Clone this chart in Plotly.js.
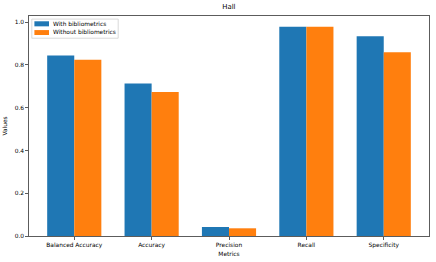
<!DOCTYPE html>
<html>
<head>
<meta charset="utf-8">
<script src="https://cdn.plot.ly/plotly-3.0.1.min.js"></script>
<style>html,body{margin:0;padding:0;background:#fff;}#chart{width:436px;height:262px;}</style>
</head>
<body>
<div id="chart"></div>
<script>
const categories = ["Balanced Accuracy", "Accuracy", "Precision", "Recall", "Specificity"];
const withBiblio = [0.844, 0.713, 0.042, 0.979, 0.934];
const withoutBiblio = [0.824, 0.673, 0.036, 0.979, 0.860];
const seriesNames = ["With bibliometrics", "Without bibliometrics"];
const seriesColors = ["#1f77b4", "#ff7f0e"];
const yTicks = [0.0, 0.2, 0.4, 0.6, 0.8, 1.0];

const idx = categories.map((_, i) => i);
const font = {family: "DejaVu Sans", size: 5.9, color: "#000"};

const traces = [
  {type: "bar", name: seriesNames[0], x: idx, y: withBiblio, marker: {color: seriesColors[0], line: {width: 0}}},
  {type: "bar", name: seriesNames[1], x: idx, y: withoutBiblio, marker: {color: seriesColors[1], line: {width: 0}}}
];

// manual matplotlib-style legend (plotly legend has a minimum row height)
const shapes = [
  {type: "rect", xref: "paper", yref: "paper", x0: 0.007, x1: 0.223, y0: 0.899, y1: 0.986,
   fillcolor: "rgba(255,255,255,0.8)", line: {color: "#d0d0d0", width: 0.8}, layer: "above"},
  {type: "rect", xref: "paper", yref: "paper", x0: 0.0135, x1: 0.05, y0: 0.953, y1: 0.976,
   fillcolor: seriesColors[0], line: {width: 0}, layer: "above"},
  {type: "rect", xref: "paper", yref: "paper", x0: 0.0135, x1: 0.05, y0: 0.9135, y1: 0.936,
   fillcolor: seriesColors[1], line: {width: 0}, layer: "above"}
];
const annotations = [
  {xref: "paper", yref: "paper", x: 0.056, y: 0.965, xanchor: "left", yanchor: "middle", text: seriesNames[0], showarrow: false, font: font},
  {xref: "paper", yref: "paper", x: 0.056, y: 0.925, xanchor: "left", yanchor: "middle", text: seriesNames[1], showarrow: false, font: font}
];

const layout = {
  width: 436, height: 262,
  margin: {l: 29, r: 7, t: 16, b: 26, pad: 0},
  paper_bgcolor: "#fff", plot_bgcolor: "#fff",
  font: font,
  barmode: "group", bargap: 0.3, bargroupgap: 0,
  title: {text: "Hall", font: {family: "DejaVu Sans", size: 6.9, color: "#000"}, x: 0.525, xanchor: "center", y: 0.985, yanchor: "top"},
  xaxis: {
    range: [-0.585, 4.585], tickmode: "array", tickvals: idx, ticktext: categories,
    showline: true, mirror: true, linecolor: "#333", linewidth: 0.8,
    ticks: "outside", ticklen: 3, tickwidth: 0.8, tickcolor: "#333",
    showgrid: false, zeroline: false, tickfont: font,
    title: {text: "Metrics", font: font, standoff: 3}
  },
  yaxis: {
    range: [0, 1.029], tickmode: "array", tickvals: yTicks, ticktext: yTicks.map(v => v.toFixed(1)),
    showline: true, mirror: true, linecolor: "#333", linewidth: 0.8,
    ticks: "outside", ticklen: 3, tickwidth: 0.8, tickcolor: "#333",
    showgrid: false, zeroline: false, tickfont: font,
    title: {text: "Values", font: font, standoff: 6}
  },
  showlegend: false,
  shapes: shapes,
  annotations: annotations
};

Plotly.newPlot("chart", traces, layout, {displayModeBar: false, staticPlot: true});
</script>
</body>
</html>
